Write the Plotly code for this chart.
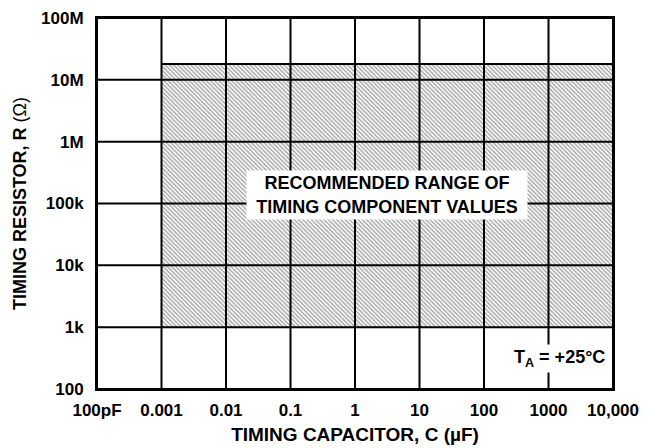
import plotly.graph_objects as go

# Axis ticks (capacitance in µF, resistance in ohms)
cap_ticks = [1e-4, 1e-3, 1e-2, 1e-1, 1, 10, 100, 1000, 10000]
cap_labels = ["100pF", "0.001", "0.01", "0.1", "1", "10", "100", "1000", "10,000"]
res_ticks = [1e2, 1e3, 1e4, 1e5, 1e6, 1e7, 1e8]
res_labels = ["100", "1k", "10k", "100k", "1M", "10M", "100M"]

# Recommended region bounds
cap_min, cap_max = 1e-3, 1e4
res_min, res_max = 1e3, 1.8e7

FONT = "Liberation Sans, Arial, sans-serif"

fig = go.Figure()
fig.add_trace(go.Scatter(
    x=[cap_min, cap_max, cap_max, cap_min, cap_min],
    y=[res_min, res_min, res_max, res_max, res_min],
    mode="lines", fill="toself", line=dict(width=0, color="rgba(0,0,0,0)"),
    fillcolor="white",
    fillpattern=dict(shape="\\", fgcolor="#555555", bgcolor="white", size=3, solidity=0.5),
    hoverinfo="skip", showlegend=False,
))
# region top border
fig.add_trace(go.Scatter(
    x=[cap_min, cap_max], y=[res_max, res_max], mode="lines",
    line=dict(color="black", width=2), hoverinfo="skip", showlegend=False,
))

# grid lines drawn above the shading
for v in cap_ticks:
    fig.add_shape(type="line", xref="x", yref="paper", x0=v, x1=v, y0=0, y1=1,
                  line=dict(color="black", width=2), layer="above")
for v in res_ticks:
    fig.add_shape(type="line", xref="paper", yref="y", x0=0, x1=1, y0=v, y1=v,
                  line=dict(color="black", width=2), layer="above")

fig.add_annotation(x=0.5, y=5.14, xref="x", yref="y",
                   text="<b>RECOMMENDED RANGE OF<br>TIMING COMPONENT VALUES</b>",
                   showarrow=False, bgcolor="white", borderpad=2, width=276, height=44,
                   font=dict(family=FONT, size=18, color="black"))
fig.add_annotation(x=3.92, y=2.5, xref="x", yref="y", xanchor="right",
                   text="<b>T<sub>A</sub> = +25°C</b>",
                   showarrow=False, bgcolor="white", borderpad=2,
                   font=dict(family=FONT, size=18, color="black"))

fig.update_xaxes(type="log", range=[-4, 4], tickvals=cap_ticks, ticktext=cap_labels,
                 showgrid=False, zeroline=False, showline=True, linecolor="black",
                 linewidth=2, mirror=True, ticks="", ticklabelstandoff=5, automargin=False,
                 ticklabeloverflow="allow",
                 tickfont=dict(family=FONT, size=17, color="black", weight="bold"),
                 title=dict(text="<b>TIMING CAPACITOR, C (µF)</b>", standoff=8,
                            font=dict(family=FONT, size=19, color="black")))
fig.update_yaxes(type="log", range=[2, 8], tickvals=res_ticks, ticktext=res_labels,
                 showgrid=False, zeroline=False, showline=True, linecolor="black",
                 linewidth=2, mirror=True, ticks="", ticklabelstandoff=8, automargin=False,
                 ticklabeloverflow="allow",
                 tickfont=dict(family=FONT, size=17, color="black", weight="bold"),
                 title=dict(text="<b>TIMING RESISTOR, R </b>(Ω)", standoff=10,
                            font=dict(family=FONT, size=18, color="black")))

# page body adds an 8px offset, so the figure is 8px smaller on each axis
fig.update_layout(width=649, height=440, margin=dict(l=89, r=44, t=10, b=59, autoexpand=False),
                  plot_bgcolor="white", paper_bgcolor="white")
fig.write_html("out.html")
